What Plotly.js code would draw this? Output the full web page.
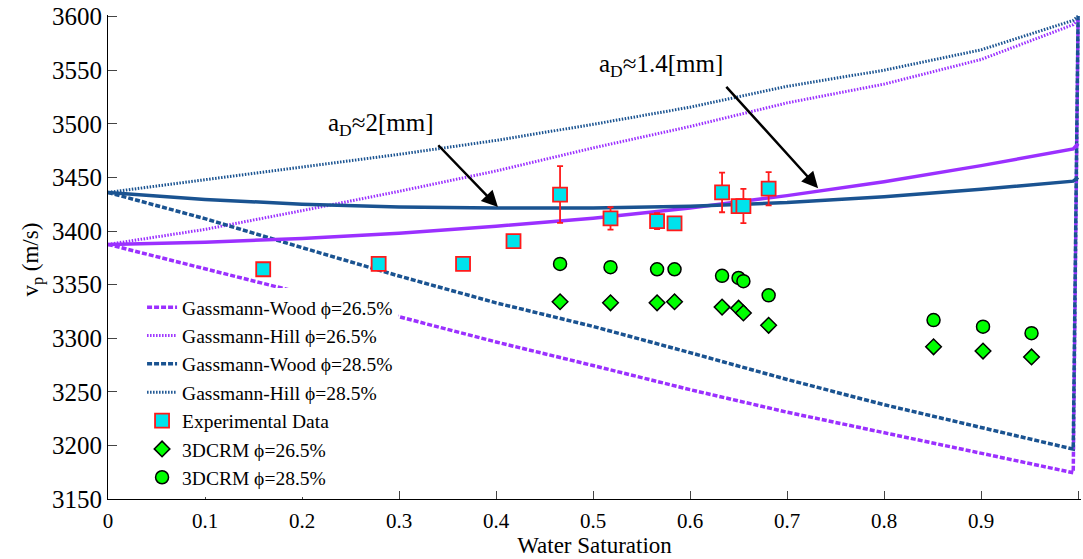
<!DOCTYPE html>
<html>
<head>
<meta charset="utf-8">
<script src="https://cdn.plot.ly/plotly-3.0.1.min.js"></script>
<style>html,body{margin:0;padding:0;background:#fff;}#chart{width:1083px;height:559px;}</style>
</head>
<body>
<div id="chart"></div>
<script>
// Water saturation grid for model curves
const swGrid = [0, 0.1, 0.2, 0.3, 0.4, 0.5, 0.6, 0.7, 0.8, 0.9, 0.995, 1.0];
// Model curves (m/s)
const woodVp265  = [3387.5, 3364.5, 3342, 3320, 3296.5, 3274.5, 3252, 3231, 3212, 3192.5, 3174.5, 3597.5];
const hillVp265  = [3387.5, 3401.5, 3419, 3437, 3456, 3477.5, 3497.5, 3519.5, 3537, 3560, 3592.5, 3597.5];
const woodVp285  = [3436, 3411.5, 3384.5, 3358, 3333, 3311, 3286.5, 3261.5, 3238, 3217, 3196.5, 3600.5];
const hillVp285  = [3436, 3448, 3460, 3471.5, 3484.5, 3499.5, 3515.5, 3535, 3550, 3569, 3596.5, 3600.5];
const modelVp265 = [3387.5, 3389.5, 3393, 3398, 3404.5, 3412, 3421.5, 3433, 3446, 3461, 3476.5, 3481.5];
const modelVp285 = [3436, 3429.5, 3425, 3422.5, 3421.5, 3421.5, 3423, 3426.5, 3432, 3439, 3446.5, 3450];

// Experimental data
const expSw  = [0.160, 0.279, 0.366, 0.418, 0.466, 0.518, 0.566, 0.584, 0.633, 0.650, 0.655, 0.681];
const expVp  = [3364.3, 3369.3, 3369.3, 3390.5, 3434, 3411.7, 3409.2, 3407.2, 3436, 3423.3, 3423.3, 3439.5];
const expErr = [0, 0, 0, 0, 26.5, 10.5, 7.5, 0, 18.5, 0, 16, 15.5];

// 3DCRM results
const crmSw    = [0.466, 0.518, 0.566, 0.584, 0.633, 0.650, 0.655, 0.681, 0.851, 0.902, 0.952];
const crmVp265 = [3334, 3333, 3333, 3334, 3329, 3328, 3323.5, 3312, 3292, 3288, 3282.5];
const crmVp285 = [3369.3, 3366.3, 3364.3, 3364.3, 3358.2, 3356.2, 3353.2, 3340, 3316.9, 3310.8, 3304.7];

// Axis ticks
const xTicks = [0, 0.1, 0.2, 0.3, 0.4, 0.5, 0.6, 0.7, 0.8, 0.9, 1];
const xTickText = ['0', '0.1', '0.2', '0.3', '0.4', '0.5', '0.6', '0.7', '0.8', '0.9', '1'];
const yTicks = [3150, 3200, 3250, 3300, 3350, 3400, 3450, 3500, 3550, 3600];

const PURPLE = '#9b30ff';
const BLUE = '#1a5391';
const FONT = 'Liberation Serif, Times New Roman, serif';

const traces = [
  {x: swGrid, y: woodVp265, mode: 'lines', name: 'Gassmann-Wood \u03d5=26.5%',
   line: {color: PURPLE, width: 3.5, dash: '5px,2px'}},
  {x: swGrid, y: hillVp265, mode: 'lines', name: 'Gassmann-Hill \u03d5=26.5%',
   line: {color: PURPLE, width: 3, dash: '1.5px,1.5px'}},
  {x: swGrid, y: woodVp285, mode: 'lines', name: 'Gassmann-Wood \u03d5=28.5%',
   line: {color: BLUE, width: 3.5, dash: '5px,2px'}},
  {x: swGrid, y: hillVp285, mode: 'lines', name: 'Gassmann-Hill \u03d5=28.5%',
   line: {color: BLUE, width: 3, dash: '1.5px,1.5px'}},
  {x: swGrid, y: modelVp265, mode: 'lines', showlegend: false,
   line: {color: PURPLE, width: 3.5}},
  {x: swGrid, y: modelVp285, mode: 'lines', showlegend: false,
   line: {color: BLUE, width: 3.5}},
  {x: expSw, y: expVp, mode: 'markers', name: 'Experimental Data',
   marker: {symbol: 'square', size: 14, color: '#00e3ec', line: {color: '#ff1a1a', width: 1.8}},
   error_y: {type: 'data', array: expErr, visible: true, color: '#ff1a1a', thickness: 1.8, width: 3}},
  {x: crmSw, y: crmVp265, mode: 'markers', name: '3DCRM \u03d5=26.5%',
   marker: {symbol: 'diamond', size: 12, color: '#00ff00', line: {color: '#000', width: 1.5}}},
  {x: crmSw, y: crmVp285, mode: 'markers', name: '3DCRM \u03d5=28.5%',
   marker: {symbol: 'circle', size: 13, color: '#00ff00', line: {color: '#000', width: 1.5}}}
];

const layout = {
  width: 1083, height: 559,
  margin: {l: 108, r: 2, t: 15, b: 60},
  paper_bgcolor: '#fff', plot_bgcolor: '#fff',
  font: {family: FONT, color: '#000'},
  showlegend: true,
  hovermode: false,
  xaxis: {
    range: [0, 1.003], tickvals: xTicks, ticktext: xTickText,
    ticks: 'inside', ticklen: 8, tickwidth: 1, tickcolor: '#444',
    showline: true, linecolor: '#000', linewidth: 1, mirror: false,
    showgrid: false, zeroline: false, ticklabelstandoff: 3,
    tickfont: {family: FONT, size: 21, color: '#000'},
    title: {text: 'Water Saturation', font: {family: FONT, size: 23, color: '#000'}, standoff: 3}
  },
  yaxis: {
    range: [3150, 3601.5], tickvals: yTicks,
    ticks: 'inside', ticklen: 9, tickwidth: 1, tickcolor: '#444',
    showline: true, linecolor: '#000', linewidth: 1, mirror: false,
    showgrid: false, zeroline: false,
    tickfont: {family: FONT, size: 25, color: '#000'}
  },
  legend: {
    x: 0.035, y: 0.436, xanchor: 'left', yanchor: 'top',
    bgcolor: '#fff', borderwidth: 0,
    font: {family: FONT, size: 19.5, color: '#000'},
    tracegroupgap: 0
  },
  annotations: [
    // y-axis title placed precisely
    {x: -0.078, y: 0.495, xref: 'paper', yref: 'paper', xanchor: 'center', yanchor: 'middle',
     text: 'v<sub>p</sub> (m/s)', textangle: -90, showarrow: false,
     font: {family: FONT, size: 23, color: '#000'}},
    {x: 0.2814, y: 3499.5, xref: 'x', yref: 'y', text: 'a<sub>D</sub>\u22482[mm]', showarrow: false,
     font: {family: FONT, size: 25, color: '#000'}},
    {x: 0.570, y: 3554, xref: 'x', yref: 'y', text: 'a<sub>D</sub>\u22481.4[mm]', showarrow: false,
     font: {family: FONT, size: 25, color: '#000'}},
    {x: 0.402, y: 3422.3, xref: 'x', yref: 'y', ax: 0.339, ay: 3481.4, axref: 'x', ayref: 'y',
     text: '', showarrow: true, arrowhead: 2, arrowsize: 1.3, arrowwidth: 2.5, arrowcolor: '#000', standoff: 0},
    {x: 0.732, y: 3440, xref: 'x', yref: 'y', ax: 0.636, ay: 3535.9, axref: 'x', ayref: 'y',
     text: '', showarrow: true, arrowhead: 2, arrowsize: 1.3, arrowwidth: 2.5, arrowcolor: '#000', standoff: 0}
  ]
};

Plotly.newPlot('chart', traces, layout, {displayModeBar: false, staticPlot: true});
</script>
</body>
</html>
